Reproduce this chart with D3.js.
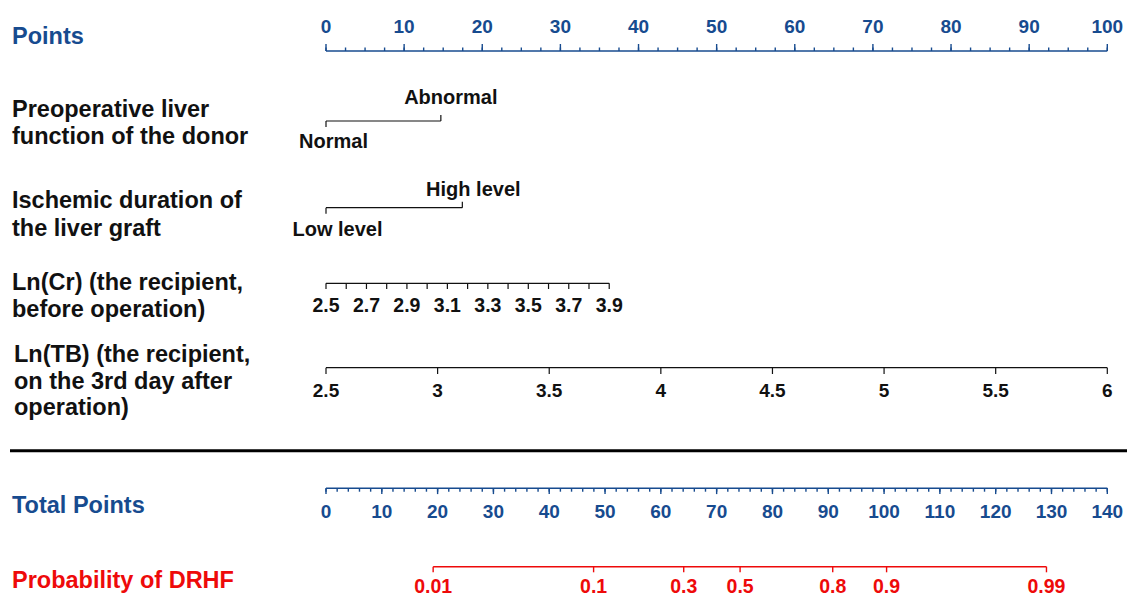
<!DOCTYPE html>
<html>
<head>
<meta charset="utf-8">
<script src="https://cdn.jsdelivr.net/npm/d3@7"></script>
<style>
  html, body { margin: 0; padding: 0; background: #fff; }
  svg { display: block; font-family: "Liberation Sans", Arial, sans-serif; font-weight: bold; }
</style>
</head>
<body>
<svg id="nomo" width="1127" height="597"></svg>
<script>
// ---- nomogram content ----
// Points scale
const pointsMajor = [0, 10, 20, 30, 40, 50, 60, 70, 80, 90, 100];
const pointsMinorStep = 2.5;

// Preoperative liver function of the donor (category -> points)
const donorCategories = ["Normal", "Abnormal"];
const donorPoints = [0, 14.7];

// Ischemic duration of the liver graft (category -> points)
const ischemiaCategories = ["Low level", "High level"];
const ischemiaPoints = [0, 17.45];

// Ln(Cr) of the recipient before operation
const crTicks = [2.5, 2.6, 2.7, 2.8, 2.9, 3.0, 3.1, 3.2, 3.3, 3.4, 3.5, 3.6, 3.7, 3.8, 3.9];
const crLabels = ["2.5", "2.7", "2.9", "3.1", "3.3", "3.5", "3.7", "3.9"];
const crRange = [2.5, 3.9];
const crPointsRange = [0, 36.25];

// Ln(TB) of the recipient on the 3rd day after operation
const tbTicks = [2.5, 3, 3.5, 4, 4.5, 5, 5.5, 6];
const tbRange = [2.5, 6];
const tbPointsRange = [0, 100];

// Total points scale
const totalMajor = [0, 10, 20, 30, 40, 50, 60, 70, 80, 90, 100, 110, 120, 130, 140];
const totalMinorStep = 2;

// Probability of DRHF and the total points where each tick sits
const probTicks = ["0.01", "0.1", "0.3", "0.5", "0.8", "0.9", "0.99"];
const probTotalPoints = [19.2, 47.95, 64.1, 74.2, 90.8, 100.45, 129.1];

// ---- drawing ----
const BLUE = "#174b8f";
const RED = "#ee0a0a";
const BLACK = "#111";

const svg = d3.select("#nomo");
const x0 = 326, x1 = 1107.3;
const xPoints = d3.scaleLinear().domain([0, 100]).range([x0, x1]);
const xTotal = d3.scaleLinear().domain([0, 140]).range([x0, x1]);

// row titles on the left
const titles = [
  { lines: ["Points"], x: 12, y: [44], color: BLUE },
  { lines: ["Preoperative liver", "function of the donor"], x: 12, y: [116.5, 143.5], color: BLACK },
  { lines: ["Ischemic duration of", "the liver graft"], x: 12, y: [208, 236], color: BLACK },
  { lines: ["Ln(Cr) (the recipient,", "before operation)"], x: 12, y: [289.5, 316.5], color: BLACK },
  { lines: ["Ln(TB) (the recipient,", "on the 3rd day after", "operation)"], x: 14, y: [361.5, 388.5, 415], color: BLACK },
  { lines: ["Total Points"], x: 12, y: [513], color: BLUE },
  { lines: ["Probability of DRHF"], x: 12, y: [588], color: RED }
];
const tg = svg.append("g").attr("class", "titles");
titles.forEach(t => {
  t.lines.forEach((ln, i) => {
    tg.append("text").attr("x", t.x).attr("y", t.y[i])
      .attr("fill", t.color).attr("font-size", 23.5).text(ln);
  });
});

// generic horizontal axis helper driven by a scale
function drawAxis(g, cfg) {
  const { scale, domain, y, color, width } = cfg;
  g.append("line")
    .attr("x1", scale(domain[0])).attr("x2", scale(domain[1]))
    .attr("y1", y).attr("y2", y)
    .attr("stroke", color).attr("stroke-width", width);
  (cfg.tickSets || []).forEach(ts => {
    g.selectAll(null).data(ts.values).join("line")
      .attr("x1", d => scale(d)).attr("x2", d => scale(d))
      .attr("y1", y).attr("y2", y + ts.size)
      .attr("stroke", color).attr("stroke-width", width);
  });
  if (cfg.labels) {
    g.selectAll(null).data(cfg.labels.values).join("text")
      .attr("x", d => scale(cfg.labels.pos ? cfg.labels.pos(d) : d))
      .attr("y", cfg.labels.y)
      .attr("text-anchor", "middle")
      .attr("fill", color)
      .attr("font-size", cfg.labels.size)
      .text(d => cfg.labels.fmt ? cfg.labels.fmt(d) : d);
  }
}

// Points axis (ticks point up, labels above)
drawAxis(svg.append("g"), {
  scale: xPoints, domain: [0, 100], y: 51, color: BLUE, width: 1.4,
  tickSets: [
    { values: d3.range(0, 100 + 1e-9, pointsMinorStep), size: -3.5 },
    { values: pointsMajor, size: -7 }
  ],
  labels: { values: pointsMajor, y: 33, size: 19 }
});

// Categorical rows: bracket with ends pointing to their labels
function drawCategory(y, cats, pts, labelY, dx) {
  const g = svg.append("g");
  g.append("line")
    .attr("x1", xPoints(pts[0])).attr("x2", xPoints(pts[1]))
    .attr("y1", y).attr("y2", y)
    .attr("stroke", BLACK).attr("stroke-width", 1.2);
  g.selectAll(null).data(pts).join("line")
    .attr("x1", d => xPoints(d)).attr("x2", d => xPoints(d))
    .attr("y1", y).attr("y2", (d, i) => i === 0 ? y + 6 : y - 6)
    .attr("stroke", BLACK).attr("stroke-width", 1.2);
  g.selectAll(null).data(cats).join("text")
    .attr("x", (d, i) => xPoints(pts[i]) + dx[i])
    .attr("y", (d, i) => labelY[i])
    .attr("text-anchor", "middle")
    .attr("fill", BLACK).attr("font-size", 20)
    .text(d => d);
}
drawCategory(121, donorCategories, donorPoints, [148.3, 104], [7.5, 10]);
drawCategory(207.7, ischemiaCategories, ischemiaPoints, [236, 196], [11.5, 11]);

// Ln(Cr)
const crToPoints = d3.scaleLinear().domain(crRange).range(crPointsRange);
const xCr = v => xPoints(crToPoints(v));
drawAxis(svg.append("g"), {
  scale: xCr, domain: crRange, y: 283.3, color: BLACK, width: 1.2,
  tickSets: [{ values: crTicks, size: 5.7 }],
  labels: { values: crLabels, pos: d => +d, y: 311.7, size: 19.5 }
});

// Ln(TB)
const tbToPoints = d3.scaleLinear().domain(tbRange).range(tbPointsRange);
const xTb = v => xPoints(tbToPoints(v));
drawAxis(svg.append("g"), {
  scale: xTb, domain: tbRange, y: 367.7, color: BLACK, width: 1.2,
  tickSets: [{ values: tbTicks, size: 6.3 }],
  labels: { values: tbTicks, y: 396.7, size: 19 }
});

// divider
svg.append("line").attr("x1", 10).attr("x2", 1127)
  .attr("y1", 450.7).attr("y2", 450.7)
  .attr("stroke", "#000").attr("stroke-width", 3);

// Total points axis (ticks point down)
drawAxis(svg.append("g"), {
  scale: xTotal, domain: [0, 140], y: 488.3, color: BLUE, width: 1.4,
  tickSets: [
    { values: d3.range(0, 140 + 1e-9, totalMinorStep), size: 3.4 },
    { values: totalMajor, size: 5.8 }
  ],
  labels: { values: totalMajor, y: 517.7, size: 19 }
});

// Probability axis placed on the total points scale
const probPos = new Map(probTicks.map((p, i) => [p, probTotalPoints[i]]));
drawAxis(svg.append("g"), {
  scale: xTotal, domain: [probTotalPoints[0], probTotalPoints[probTotalPoints.length - 1]],
  y: 566.7, color: RED, width: 1.4,
  tickSets: [{ values: probTotalPoints, size: 5.6 }],
  labels: { values: probTicks, pos: d => probPos.get(d), y: 592.5, size: 19.5 }
});
</script>
</body>
</html>
